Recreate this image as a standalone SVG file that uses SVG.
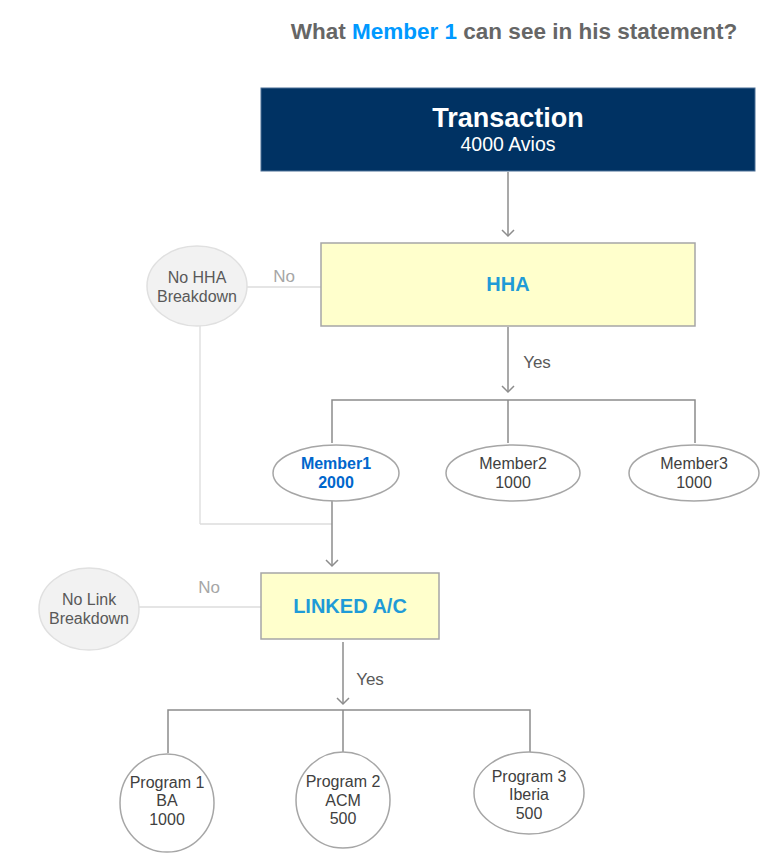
<svg xmlns="http://www.w3.org/2000/svg" width="779" height="863" viewBox="0 0 779 863">
<style>
text{font-family:"Liberation Sans",Arial,sans-serif;text-anchor:middle}
.conn{stroke:#8c8c8c;stroke-width:1.5;fill:none}
.light{stroke:#dcdcdc;stroke-width:1.3;fill:none}
.oval{fill:#ffffff;stroke:#a6a6a6;stroke-width:1.5}
.grey{fill:#f2f2f2;stroke:#e0e0e0;stroke-width:1.5}
.ybox{fill:#ffffcc;stroke:#a6a6a6;stroke-width:1.5}
.t{font-size:16px;fill:#404040}
.g{font-size:16px;fill:#595959}
.lbl{font-size:17px;fill:#595959}
.no{font-size:17px;fill:#a6a6a6}
.hd{font-size:20px;font-weight:bold;fill:#1f9bd7}
</style>
<text x="514" y="39" font-size="22.5" font-weight="bold" fill="#666666">What <tspan fill="#0099ff">Member 1</tspan> can see in his statement?</text>
<g id="connectors">
<line class="conn" x1="508" y1="172" x2="508" y2="236"/>
<path d="M502,230 L508,236 L514,230" class="conn"/>
<line class="light" x1="247" y1="287" x2="321" y2="287"/>
<line class="light" x1="200" y1="326" x2="200" y2="524"/>
<line class="light" x1="200" y1="524" x2="332" y2="524"/>
<line class="conn" x1="508" y1="327" x2="508" y2="392"/>
<path d="M502,386 L508,392 L514,386" class="conn"/>
<path class="conn" d="M332,443 V400 H695 V443 M508,400 V443"/>
<line class="conn" x1="332" y1="501" x2="332" y2="566"/>
<path d="M326,560 L332,566 L338,560" class="conn"/>
<line class="light" x1="139" y1="607" x2="261" y2="607"/>
<line class="conn" x1="343" y1="642" x2="343" y2="704"/>
<path d="M337,698 L343,704 L349,698" class="conn"/>
<path class="conn" d="M168,753 V710 H530 V753 M343,710 V753"/>
<text class="no" x="284" y="282">No</text>
<text class="lbl" x="537" y="368">Yes</text>
<text class="no" x="209" y="593">No</text>
<text class="lbl" x="370" y="685">Yes</text>
</g>
<g id="transaction">
<rect x="261" y="88" width="494" height="83" fill="#003263" stroke="#4a6f96" stroke-width="1"/>
<text x="508" y="127" font-size="27" font-weight="bold" fill="#ffffff">Transaction</text>
<text x="508" y="151" font-size="19.5" fill="#ffffff">4000 Avios</text>
</g>
<g id="hha">
<rect class="ybox" x="321" y="243" width="374" height="83"/>
<text class="hd" x="508" y="291">HHA</text>
</g>
<g id="no-hha">
<ellipse class="grey" cx="197" cy="286" rx="50" ry="40"/>
<text class="g" x="197" y="283">No HHA</text>
<text class="g" x="197" y="302">Breakdown</text>
</g>
<g id="member1">
<ellipse class="oval" cx="336" cy="473" rx="63" ry="28"/>
<text x="336" y="469" font-size="16" font-weight="bold" fill="#0066cc">Member1</text>
<text x="336" y="488" font-size="16" font-weight="bold" fill="#0066cc">2000</text>
</g>
<g id="member2">
<ellipse class="oval" cx="513" cy="473" rx="67" ry="28"/>
<text class="t" x="513" y="469">Member2</text>
<text class="t" x="513" y="488">1000</text>
</g>
<g id="member3">
<ellipse class="oval" cx="694" cy="473" rx="65" ry="28"/>
<text class="t" x="694" y="469">Member3</text>
<text class="t" x="694" y="488">1000</text>
</g>
<g id="linked">
<rect class="ybox" x="261" y="573" width="178" height="66"/>
<text class="hd" x="350" y="613">LINKED A/C</text>
</g>
<g id="no-link">
<ellipse class="grey" cx="89" cy="609" rx="50" ry="41"/>
<text class="g" x="89" y="605">No Link</text>
<text class="g" x="89" y="624">Breakdown</text>
</g>
<g id="program1">
<ellipse class="oval" cx="167" cy="803" rx="47" ry="49"/>
<text class="t" x="167" y="788">Program 1</text>
<text class="t" x="167" y="806">BA</text>
<text class="t" x="167" y="825">1000</text>
</g>
<g id="program2">
<ellipse class="oval" cx="343" cy="800" rx="47" ry="48"/>
<text class="t" x="343" y="787">Program 2</text>
<text class="t" x="343" y="806">ACM</text>
<text class="t" x="343" y="824">500</text>
</g>
<g id="program3">
<ellipse class="oval" cx="529" cy="793" rx="55" ry="41"/>
<text class="t" x="529" y="782">Program 3</text>
<text class="t" x="529" y="800">Iberia</text>
<text class="t" x="529" y="819">500</text>
</g>
</svg>
